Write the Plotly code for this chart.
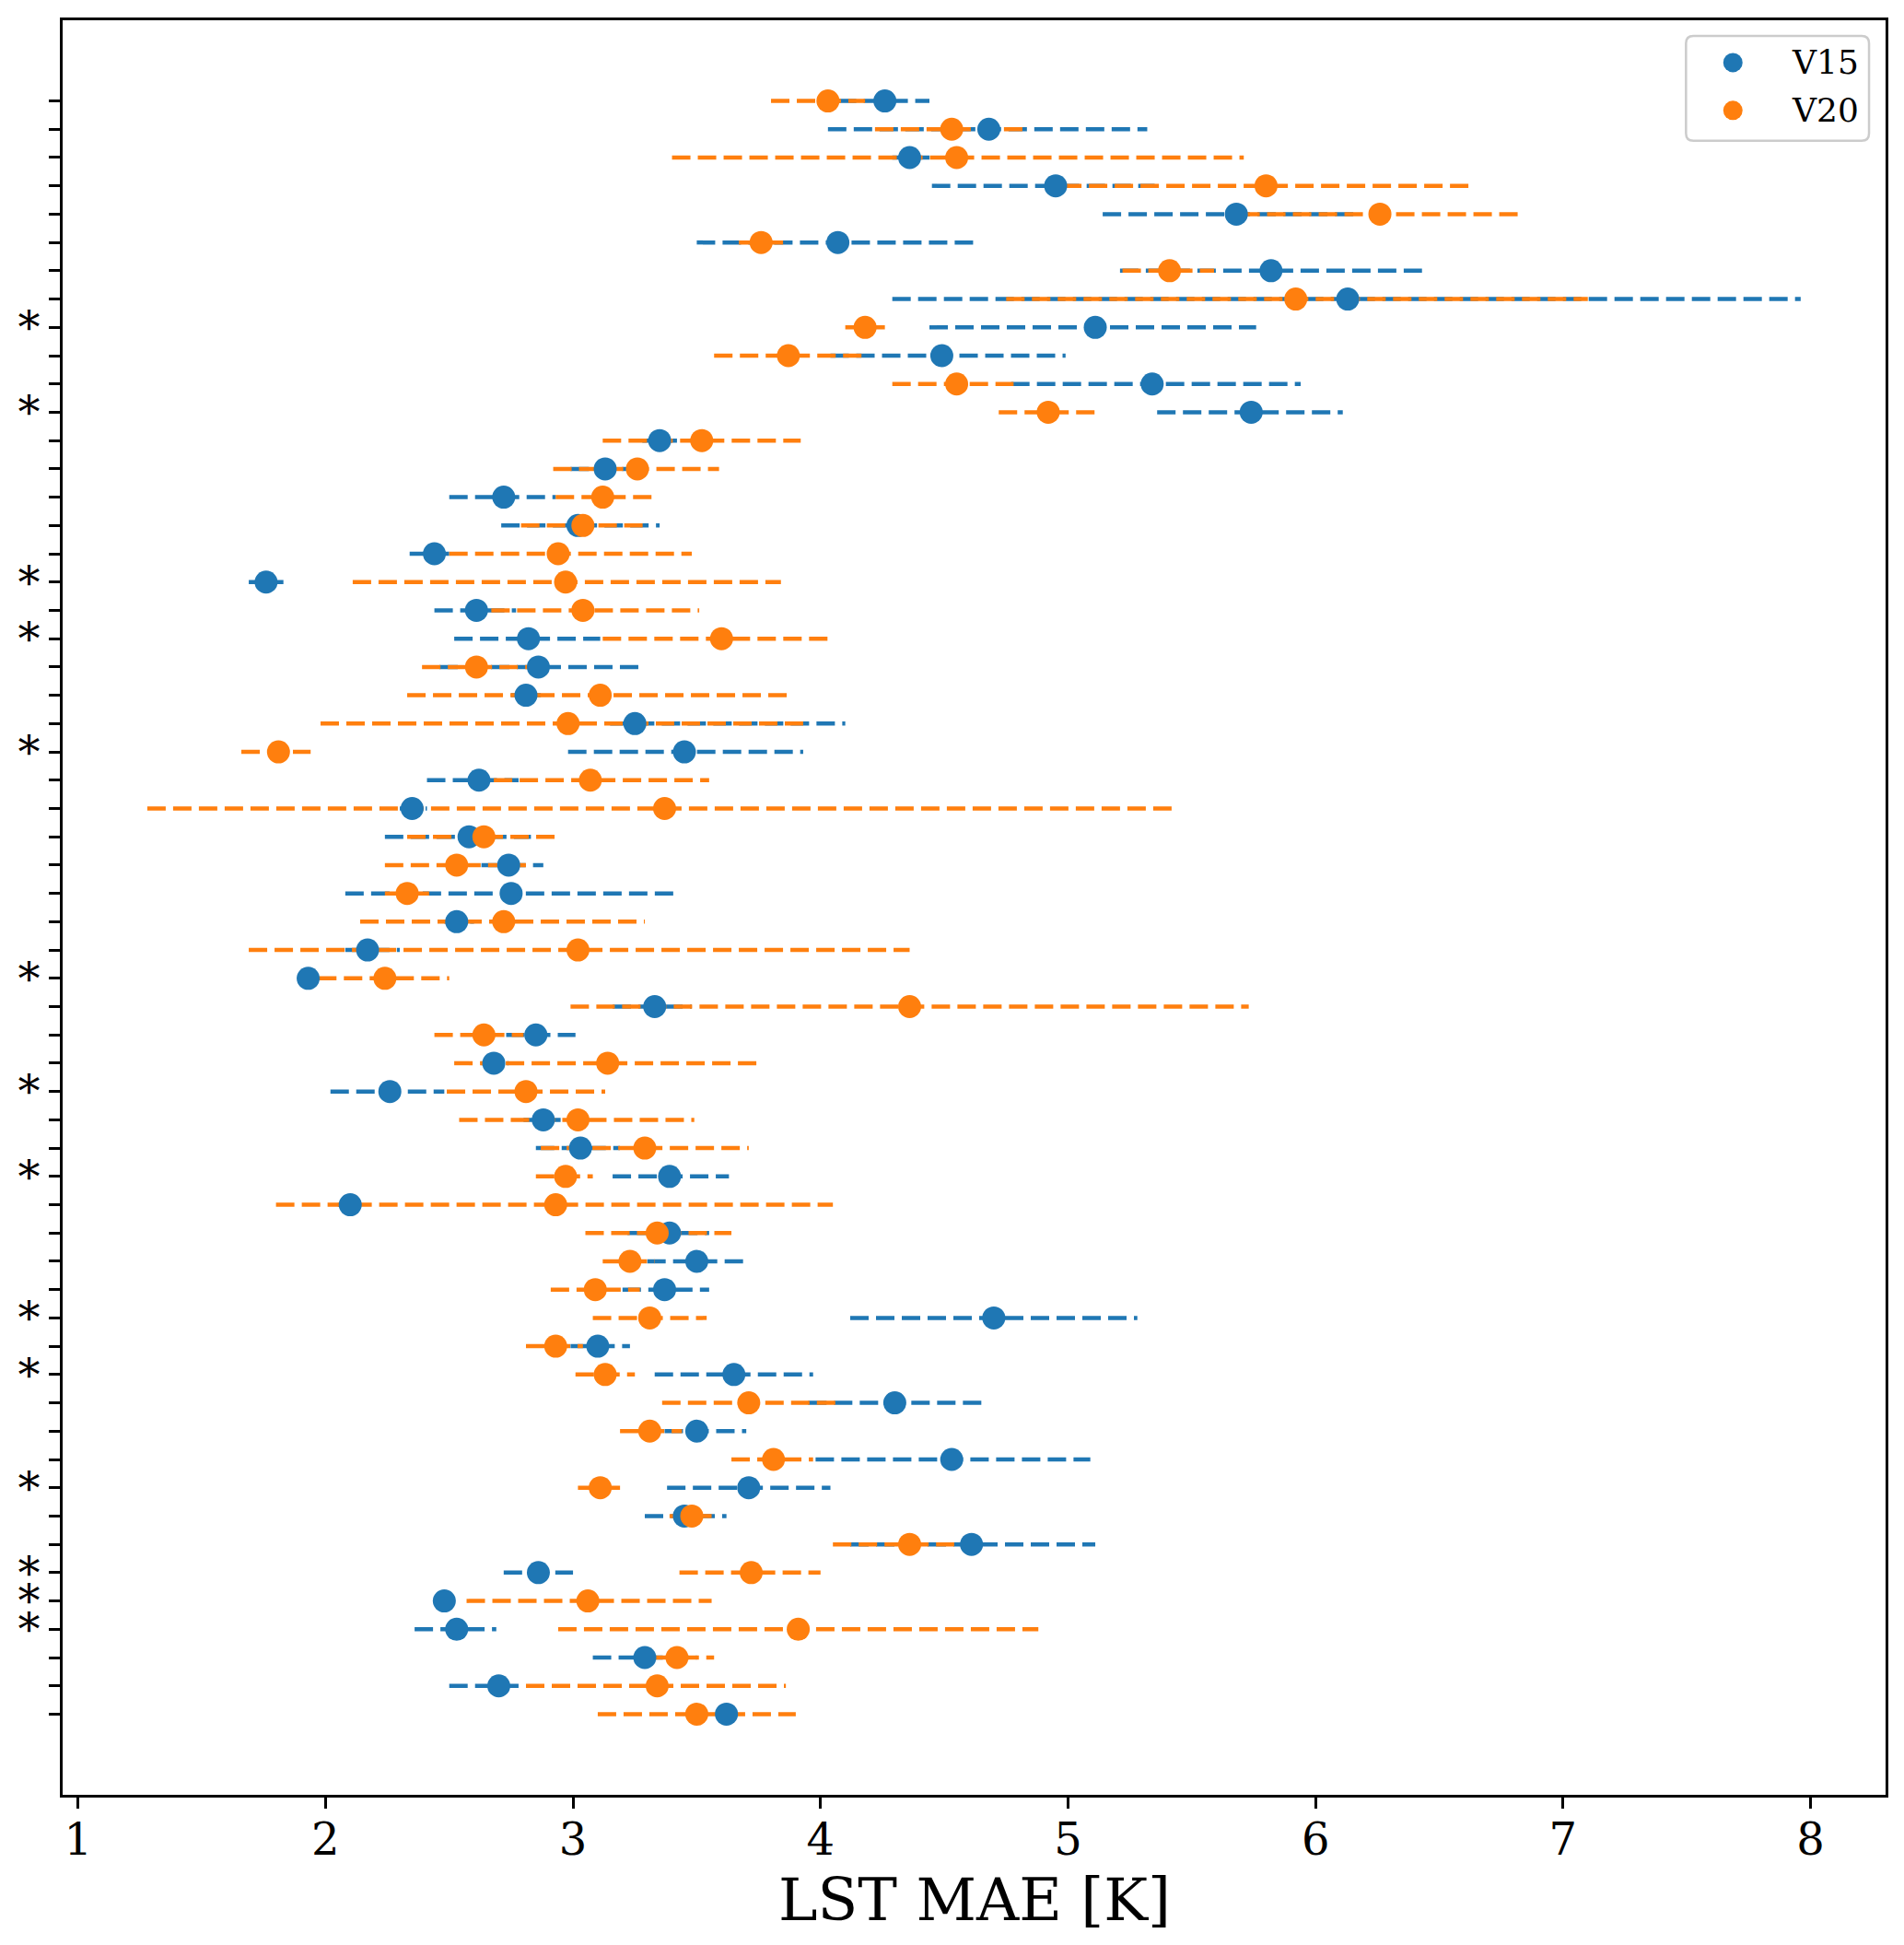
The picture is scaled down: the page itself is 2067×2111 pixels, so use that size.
import plotly.graph_objects as go

# ---- data (rows top to bottom) ----
rows = list(range(58))

v15_mae = [4.26, 4.68, 4.36, 4.95, 5.68, 4.07, 5.82, 6.13, 5.11, 4.49, 5.34, 5.74,
           3.35, 3.13, 2.72, 3.02, 2.44, 1.76, 2.61, 2.82, 2.86, 2.81, 3.25, 3.45,
           2.62, 2.35, 2.58, 2.74, 2.75, 2.53, 2.17, 1.93, 3.33, 2.85, 2.68, 2.26,
           2.88, 3.03, 3.39, 2.10, 3.39, 3.50, 3.37, 4.70, 3.10, 3.65, 4.30, 3.50,
           4.53, 3.71, 3.45, 4.61, 2.86, 2.48, 2.53, 3.29, 2.70, 3.62]
v15_low = [4.07, 4.03, 4.29, 4.45, 5.14, 3.50, 5.21, 4.29, 4.44, 4.04, 4.77, 5.36,
           3.28, 2.99, 2.50, 2.71, 2.34, 1.69, 2.44, 2.52, 2.46, 2.75, 3.15, 2.98,
           2.41, 2.30, 2.24, 2.63, 2.08, 2.48, 2.08, 1.90, 3.16, 2.73, 2.63, 2.02,
           2.80, 2.85, 3.16, 2.05, 3.22, 3.30, 3.20, 4.12, 2.99, 3.33, 3.95, 3.37,
           3.98, 3.38, 3.29, 4.12, 2.72, 2.45, 2.36, 3.08, 2.50, 3.58]
v15_high = [4.44, 5.32, 4.44, 5.35, 6.16, 4.62, 6.43, 7.96, 5.76, 4.99, 5.94, 6.11,
            3.42, 3.22, 2.93, 3.35, 2.50, 1.83, 2.77, 3.11, 3.29, 2.87, 4.10, 3.93,
            2.78, 2.41, 2.83, 2.88, 3.41, 2.60, 2.30, 1.96, 3.48, 3.01, 2.74, 2.48,
            2.95, 3.19, 3.63, 2.15, 3.55, 3.69, 3.55, 5.28, 3.23, 3.97, 4.67, 3.70,
            5.09, 4.04, 3.62, 5.11, 3.00, 2.51, 2.69, 3.50, 2.78, 3.66]

v20_mae = [4.03, 4.53, 4.55, 5.80, 6.26, 3.76, 5.41, 5.92, 4.18, 3.87, 4.55, 4.92,
           3.52, 3.26, 3.12, 3.04, 2.94, 2.97, 3.04, 3.60, 2.61, 3.11, 2.98, 1.81,
           3.07, 3.37, 2.64, 2.53, 2.33, 2.72, 3.02, 2.24, 4.36, 2.64, 3.14, 2.81,
           3.02, 3.29, 2.97, 2.93, 3.34, 3.23, 3.09, 3.31, 2.93, 3.13, 3.71, 3.31,
           3.81, 3.11, 3.48, 4.36, 3.72, 3.06, 3.91, 3.42, 3.34, 3.50]
v20_low = [3.80, 4.22, 3.40, 4.98, 5.70, 3.67, 5.22, 4.75, 4.10, 3.57, 4.29, 4.72,
           3.12, 2.92, 2.93, 2.79, 2.50, 2.11, 2.67, 3.12, 2.39, 2.33, 1.98, 1.66,
           2.68, 1.28, 2.33, 2.24, 2.24, 2.14, 1.69, 1.97, 2.99, 2.44, 2.52, 2.49,
           2.54, 2.87, 2.85, 1.80, 3.05, 3.12, 2.91, 3.08, 2.81, 3.01, 3.36, 3.19,
           3.64, 3.02, 3.39, 4.05, 3.43, 2.57, 2.94, 3.33, 2.81, 3.10]
v20_high = [4.18, 4.82, 5.71, 6.63, 6.82, 3.85, 5.59, 7.10, 4.26, 4.17, 4.78, 5.11,
            3.92, 3.59, 3.32, 3.29, 3.48, 3.84, 3.51, 4.05, 2.82, 3.87, 3.95, 1.94,
            3.55, 5.44, 2.93, 2.81, 2.42, 3.29, 4.36, 2.50, 5.73, 2.80, 3.75, 3.13,
            3.49, 3.71, 3.08, 4.05, 3.64, 3.33, 3.27, 3.54, 3.04, 3.25, 4.06, 3.44,
            3.97, 3.19, 3.56, 4.54, 4.00, 3.56, 4.88, 3.57, 3.86, 3.90]

star_rows = [8, 11, 17, 19, 23, 31, 35, 38, 43, 45, 49, 52, 53, 54]
y_ticktext = ["*" if r in star_rows else "" for r in rows]
x_tickvals = [1, 2, 3, 4, 5, 6, 7, 8]
series_names = ["V15", "V20"]
x_title = "LST MAE [K]"

BLUE = "#1f77b4"
ORANGE = "#ff7f0e"
COLORS = [BLUE, ORANGE]

# figure geometry (pixels)
W, H = 2059, 2103
ML, MR, MT, MB = 57, 20, 11, 163
PW, PH = W - ML - MR, H - MT - MB


def px_to_paper_x(px):
    return (px - ML) / PW


def px_to_paper_y(py):
    return (H - MB - py) / PH


def segments(low, high):
    xs, ys = [], []
    for r, lo, hi in zip(rows, low, high):
        xs += [lo, hi, None]
        ys += [r, r, None]
    return xs, ys


fig = go.Figure()
for low, high, col in [(v15_low, v15_high, BLUE), (v20_low, v20_high, ORANGE)]:
    xs, ys = segments(low, high)
    fig.add_trace(go.Scatter(x=xs, y=ys, mode="lines", showlegend=False,
                             hoverinfo="skip", connectgaps=False,
                             line=dict(color=col, width=4.5, dash="20px,8px")))

for name, vals, col in zip(series_names, [v15_mae, v20_mae], COLORS):
    fig.add_trace(go.Scatter(x=vals, y=rows, mode="markers", name=name,
                             showlegend=False,
                             marker=dict(color=col, size=25, line=dict(width=0))))

# ---- legend drawn as shapes + text (matplotlib look) ----
bx0, bx1 = px_to_paper_x(1822), px_to_paper_x(2021)
by1, by0 = px_to_paper_y(28), px_to_paper_y(142)
rx, ry = 8 / PW, 8 / PH
path = (f"M {bx0+rx},{by1} L {bx1-rx},{by1} Q {bx1},{by1} {bx1},{by1-ry} "
        f"L {bx1},{by0+ry} Q {bx1},{by0} {bx1-rx},{by0} "
        f"L {bx0+rx},{by0} Q {bx0},{by0} {bx0},{by0+ry} "
        f"L {bx0},{by1-ry} Q {bx0},{by1} {bx0+rx},{by1} Z")
shapes = [dict(type="path", xref="paper", yref="paper", path=path,
               fillcolor="white", line=dict(color="#cccccc", width=2.5),
               layer="above")]
annotations = []
for k, (name, col) in enumerate(zip(series_names, COLORS)):
    cy = px_to_paper_y(57 + 52 * k)
    cx = px_to_paper_x(1873)
    shapes.append(dict(type="circle", xref="paper", yref="paper",
                       xsizemode="pixel", ysizemode="pixel",
                       xanchor=cx, yanchor=cy, x0=-10.5, x1=10.5, y0=-10.5, y1=10.5,
                       fillcolor=col, line=dict(width=0), layer="above"))
    annotations.append(dict(text=name, xref="paper", yref="paper",
                            x=px_to_paper_x(1935), y=cy, xanchor="left",
                            yanchor="middle", showarrow=False,
                            font=dict(size=36, family="DejaVu Serif", color="black")))

# x-axis title
annotations.append(dict(text=x_title, xref="paper", yref="paper",
                        x=0.5, y=px_to_paper_y(2054), xanchor="center",
                        yanchor="middle", showarrow=False,
                        font=dict(size=64, family="DejaVu Serif", color="black")))

fig.update_layout(
    width=W, height=H,
    margin=dict(l=ML, r=MR, t=MT, b=MB),
    paper_bgcolor="white", plot_bgcolor="white",
    font=dict(family="DejaVu Serif", color="black", size=48),
    showlegend=False,
    shapes=shapes,
    annotations=annotations,
)
fig.update_xaxes(
    range=[0.938, 8.303], tickmode="array", tickvals=x_tickvals,
    ticktext=[str(v) for v in x_tickvals],
    ticks="outside", ticklen=12, tickwidth=3, tickcolor="black",
    tickfont=dict(size=48), ticklabelstandoff=-8,
    showline=True, linewidth=3, linecolor="black", mirror=True,
    showgrid=False, zeroline=False,
)
fig.update_yaxes(
    range=[59.85, -2.85], tickmode="array", tickvals=rows, ticktext=y_ticktext,
    ticks="outside", ticklen=12, tickwidth=3, tickcolor="black",
    tickfont=dict(size=48),
    showline=True, linewidth=3, linecolor="black", mirror=True,
    showgrid=False, zeroline=False,
)

fig.write_html("out.html")
